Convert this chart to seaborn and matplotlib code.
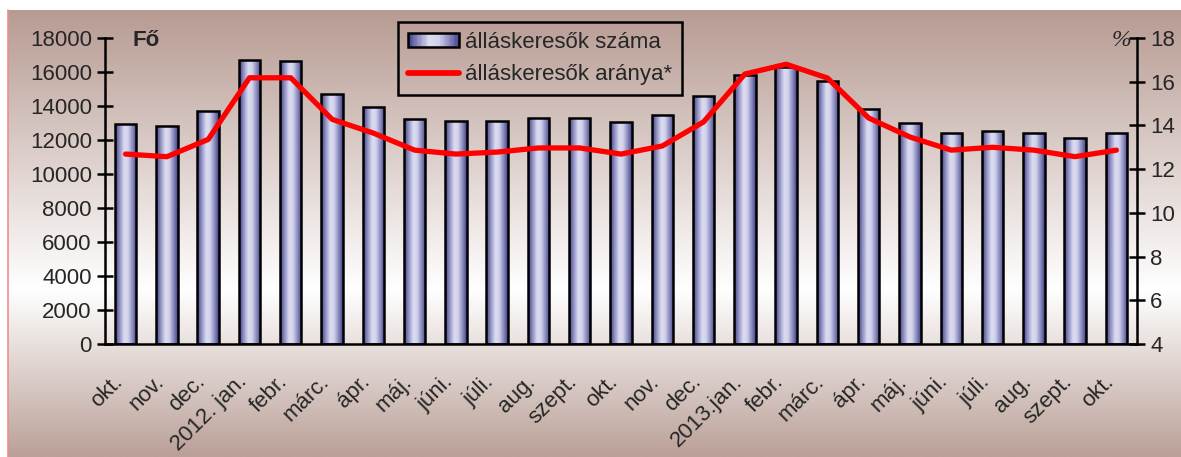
import numpy as np
import pandas as pd
import seaborn as sns
import matplotlib.pyplot as plt
from matplotlib.colors import LinearSegmentedColormap
from matplotlib.patches import Patch, Rectangle
from matplotlib.lines import Line2D
from matplotlib.legend_handler import HandlerBase
from matplotlib.transforms import ScaledTranslation

# data
months = ["okt.", "nov.", "dec.", "2012. jan.", "febr.", "márc.", "ápr.", "máj.",
          "júni.", "júli.", "aug.", "szept.", "okt.", "nov.", "dec.", "2013.jan.",
          "febr.", "márc.", "ápr.", "máj.", "júni.", "júli.", "aug.", "szept.", "okt."]
job_seekers = [12950, 12820, 13700, 16700, 16630, 14700, 13960, 13240, 13100,
               13120, 13300, 13300, 13060, 13470, 14590, 15820, 16300, 15470,
               13820, 12980, 12390, 12530, 12390, 12100, 12390]
seeker_rate = [12.69, 12.57, 13.36, 16.18, 16.18, 14.28, 13.65, 12.87, 12.69,
               12.78, 12.97, 12.97, 12.69, 13.06, 14.16, 16.35, 16.8, 16.17,
               14.34, 13.47, 12.87, 13.0, 12.87, 12.57, 12.87]

left_ticks = list(range(0, 18001, 2000))
right_ticks = list(range(4, 19, 2))

df = pd.DataFrame({"idx": range(len(months)), "szama": job_seekers, "aranya": seeker_rate})

sns.set_style("white")
plt.rcParams["font.family"] = ["Liberation Sans", "DejaVu Sans"]
FS = 16

bar_cmap = LinearSegmentedColormap.from_list(
    "cyl", [(0, "#3e3e86"), (0.18, "#8686bc"), (0.42, "#dcdcf2"),
            (0.6, "#d2d2ec"), (0.85, "#7c7cb4"), (1, "#40408a")])


class GradientHandler(HandlerBase):
    # legend key drawn as striped gradient box like the bars
    def create_artists(self, legend, orig_handle, xdescent, ydescent,
                       width, height, fontsize, trans):
        n = 40
        arts = []
        for i in range(n):
            r = Rectangle((-xdescent + width * i / n, -ydescent), width / n + 0.3, height,
                          facecolor=bar_cmap((i + 0.5) / n), edgecolor="none",
                          transform=trans)
            arts.append(r)
        arts.append(Rectangle((-xdescent, -ydescent), width, height, facecolor="none",
                              edgecolor="black", linewidth=1.8, transform=trans))
        return arts


W, H = 1181, 457
fig = plt.figure(figsize=(W / 100, H / 100), dpi=100)
fig.patch.set_facecolor("white")

# chart area background: brown -> white -> brown, vertical
bg = fig.add_axes([8 / W, 0, 1 - 8 / W, 1 - 10 / H], zorder=-10)
brown_top = np.array([183, 155, 146]) / 255
brown_bot = np.array([186, 160, 151]) / 255
white = np.array([1.0, 1.0, 1.0])
ys = np.linspace(10, 457, 300)
rows = []
for y in ys:
    if y < 290:
        t = (y - 10) / 280
        c = brown_top * (1 - t) + white * t
    else:
        t = (y - 290) / 167
        c = white * (1 - t) + brown_bot * t
    rows.append(c)
grad = np.array(rows)[:, None, :]
bg.imshow(grad, aspect="auto", extent=[0, 1, 0, 1])
bg.set_axis_off()
fig.add_artist(Line2D([8 / W, 8 / W], [0, 1 - 10 / H], color="#f08c8c", lw=1.2))

ax = fig.add_axes([105 / W, 1 - 344 / H, 1032 / W, 306 / H])
ax.patch.set_visible(False)
ax2 = ax.twinx()
ax2.patch.set_visible(False)

sns.barplot(data=df, x="idx", y="szama", ax=ax, color="#a0a0cc", width=0.52,
            saturation=1, edgecolor="black", linewidth=1.8)

hgrad = np.linspace(0, 1, 64)[None, :]
for p in ax.patches:
    x0, y0 = p.get_x(), p.get_y()
    w, h = p.get_width(), p.get_height()
    im = ax.imshow(hgrad, cmap=bar_cmap, aspect="auto", extent=[x0, x0 + w, y0, y0 + h],
                   zorder=2, interpolation="bilinear")
    im.set_clip_path(p)
    p.set_facecolor("none")
    p.set_zorder(3)

sns.lineplot(data=df, x="idx", y="aranya", ax=ax2, color="#ff0000", linewidth=3.8)

ax.set_xlim(-0.5, len(months) - 0.5)
ax.set_ylim(0, 18000)
ax2.set_ylim(4, 18)
ax.set_xlabel("")
ax.set_ylabel("")
ax2.set_xlabel("")
ax2.set_ylabel("")

ax.set_xticks(df["idx"], months, rotation=45, ha="right", rotation_mode="anchor",
              va="center", fontsize=FS)
ax.set_xticks(np.arange(-0.5, len(months)), minor=True)
ax.tick_params(axis="x", which="major", length=0, pad=25)
ax.tick_params(axis="x", which="minor", length=7, width=1.8, direction="out", color="black")
shift = ScaledTranslation(-6 / 100, 0, fig.dpi_scale_trans)
for lab in ax.get_xticklabels():
    lab.set_transform(lab.get_transform() + shift)
ax.set_yticks(left_ticks)
ax.tick_params(axis="y", length=11, width=1.8, direction="inout", labelsize=FS,
               pad=4, color="black", left=True)
ax2.set_yticks(right_ticks)
ax2.tick_params(axis="y", length=11, width=1.8, direction="inout", labelsize=FS,
                pad=4, color="black", right=True)

for a in (ax, ax2):
    for s in a.spines.values():
        s.set_visible(False)
ax.spines["left"].set_visible(True)
ax.spines["bottom"].set_visible(True)
ax2.spines["right"].set_visible(True)
for s in (ax.spines["left"], ax.spines["bottom"], ax2.spines["right"]):
    s.set_color("black")
    s.set_linewidth(1.8)

fig.text(132 / W, 1 - 40 / H, "Fő", fontsize=FS, fontweight="bold", va="center", ha="left")
fig.text(1131 / W, 1 - 40 / H, "%", fontsize=FS + 1, fontstyle="italic",
         family=["Liberation Serif", "DejaVu Serif"], va="center", ha="right")

handles = [Patch(facecolor="#a0a0cc", edgecolor="black"),
           Line2D([], [], color="#ff0000", linewidth=4.2, solid_capstyle="round")]
leg = fig.legend(handles, ["álláskeresők száma", "álláskeresők aránya*"],
                 handler_map={Patch: GradientHandler()},
                 loc="upper left", bbox_to_anchor=(398 / W, 1 - 22 / H),
                 fontsize=FS, frameon=True, fancybox=False,
                 edgecolor="black", handlelength=2.3, handleheight=0.6,
                 handletextpad=0.25, borderaxespad=0, borderpad=0.45,
                 labelspacing=0.5)
frame = leg.get_frame()
frame.set_facecolor("none")
frame.set_edgecolor("black")
frame.set_alpha(None)
frame.set_linewidth(1.8)

fig.savefig("out.png", dpi=100)
